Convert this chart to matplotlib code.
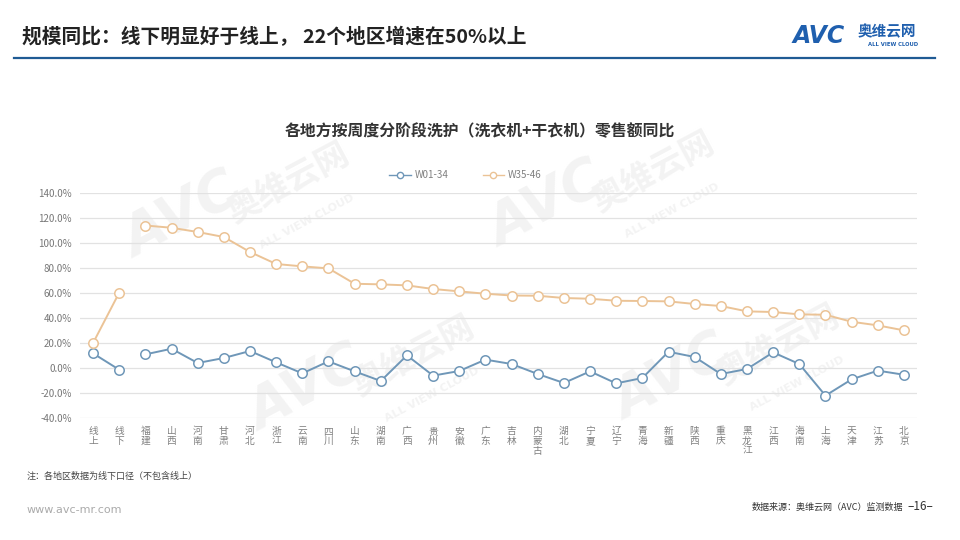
import matplotlib
matplotlib.use("Agg")
import matplotlib.pyplot as plt
import numpy as np
from matplotlib.lines import Line2D

plt.rcParams['font.family'] = ['Noto Sans CJK SC', 'DejaVu Sans']

regions = ["线上", "线下", "福建", "山西", "河南", "甘肃", "河北", "浙江", "云南", "四川",
           "山东", "湖南", "广西", "贵州", "安徽", "广东", "吉林", "内蒙古", "湖北", "宁夏",
           "辽宁", "青海", "新疆", "陕西", "重庆", "黑龙江", "江西", "海南", "上海", "天津",
           "江苏", "北京"]
w01_34 = [11.7, -1.4, 10.9, 15.4, 4.0, 8.0, 13.6, 4.5, -4.3, 5.3,
          -2.7, -10.4, 10.1, -6.1, -2.4, 6.7, 3.2, -4.8, -12.0, -2.7,
          -12.3, -8.0, 13.0, 8.8, -4.8, -0.8, 12.5, 3.2, -22.1, -9.1,
          -2.1, -5.4]
w35_46 = [20.0, 60.3, 114.0, 112.2, 108.8, 104.8, 92.8, 83.2, 81.3, 79.7,
          67.4, 66.9, 66.1, 63.2, 61.3, 59.4, 58.0, 57.8, 56.0, 55.4,
          53.8, 53.6, 53.3, 51.2, 49.6, 45.3, 44.8, 42.9, 42.6, 37.0,
          34.1, 30.1]
series_names = ["W01-34", "W35-46"]
yticks = [-40, -20, 0, 20, 40, 60, 80, 100, 120, 140]

blue = '#6f97b8'
orange = '#ebc396'

fig = plt.figure(figsize=(9.6, 5.4), dpi=100)
fig.patch.set_facecolor('white')

# faint watermarks (behind the chart)
wm_color = '#f3f3f3'
for (x, y) in [(0.19, 0.60), (0.57, 0.62), (0.32, 0.28), (0.70, 0.30)]:
    fig.text(x, y, "AVC", fontsize=40, fontweight='bold', color=wm_color, rotation=28,
             ha='center', va='center', zorder=-5, family='DejaVu Sans', style='italic')
    fig.text(x + 0.11, y + 0.06, "奥维云网", fontsize=24, fontweight='bold', color=wm_color,
             rotation=28, ha='center', va='center', zorder=-5)
    fig.text(x + 0.13, y - 0.01, "ALL VIEW CLOUD", fontsize=8, fontweight='bold', color=wm_color,
             rotation=28, ha='center', va='center', zorder=-5, family='DejaVu Sans')

ax = fig.add_axes([80/960, 1-418/540, (917-80)/960, (418-193)/540])
ax.set_zorder(5)
ax.set_facecolor('none')
x = np.arange(len(regions))
w1 = np.array(w01_34)
w2 = np.array(w35_46)

mk = dict(marker='o', markersize=6.8, markerfacecolor='white', markeredgewidth=1.1, linewidth=1.4)
# online/offline pair and regions plotted as separate segments
ax.plot(x[:2], w1[:2], color=blue, markeredgecolor=blue, zorder=3, **mk)
ax.plot(x[2:], w1[2:], color=blue, markeredgecolor=blue, zorder=3, **mk)
ax.plot(x[:2], w2[:2], color=orange, markeredgecolor=orange, zorder=3, **mk)
ax.plot(x[2:], w2[2:], color=orange, markeredgecolor=orange, zorder=3, **mk)

ax.set_xlim(-0.5, len(regions) - 0.5)
ax.set_ylim(-40, 140)
ax.set_yticks(yticks)
ax.set_yticklabels([f"{v:.1f}%" for v in yticks], fontsize=7, color='#777777')
ax.set_xticks(x)
ax.set_xticklabels(["\n".join(r) for r in regions], fontsize=7, color='#808080',
                   linespacing=0.95, va='top')
ax.tick_params(axis='both', length=0, pad=6)
ax.grid(axis='y', color='#e2e2e2', linewidth=0.9)
ax.set_axisbelow(True)
for s in ax.spines.values():
    s.set_visible(False)

# legend
handles = [Line2D([], [], color=blue, marker='o', markersize=4.5, markerfacecolor='white',
                  markeredgecolor=blue, linewidth=1.0),
           Line2D([], [], color=orange, marker='o', markersize=4.5, markerfacecolor='white',
                  markeredgecolor=orange, linewidth=1.0)]
fig.legend(handles, series_names, loc='center', bbox_to_anchor=(0.485, 1-175/540), ncol=2,
           frameon=False, fontsize=7, labelcolor='#808080', handlelength=2.2, columnspacing=3.5,
           handletextpad=0.4)

# chart title
fig.text(0.5, 1-131/540, "各地方按周度分阶段洗护（洗衣机+干衣机）零售额同比", ha='center',
         va='center', fontsize=11.4, fontweight='bold', color='#333333')

# page title
fig.text(22/960, 1-37/540, "规模同比：线下明显好于线上， 22个地区增速在50%以上", ha='left',
         va='center', fontsize=14.2, fontweight='bold', color='#222222')
fig.add_artist(Line2D([14/960, 935/960], [1-58/540, 1-58/540], color='#1f5b94', linewidth=1.6))

# logo
fig.text(793/960, 1-36/540, "AVC", ha='left', va='center', fontsize=17, fontweight='bold',
         style='italic', color='#1f5fae', family='DejaVu Sans')
fig.text(858/960, 1-31/540, "奥维云网", ha='left', va='center', fontsize=10.5, fontweight='bold',
         color='#1f5fae')
fig.text(868/960, 1-44/540, "ALL VIEW CLOUD", ha='left', va='center', fontsize=3.8,
         color='#1f5fae', family='DejaVu Sans', fontweight='bold')

# note and footer
fig.text(27/960, 1-476/540, "注：各地区数据为线下口径（不包含线上）", ha='left', va='center',
         fontsize=6.5, color='#444444')
fig.text(27/960, 1-510/540, "www.avc-mr.com", ha='left', va='center', fontsize=8,
         color='#aaaaaa', family='DejaVu Sans')
fig.text(903/960, 1-507/540, "数据来源：奥维云网（AVC）监测数据", ha='right', va='center',
         fontsize=6.5, color='#333333')
fig.text(933/960, 1-507/540, "–16–", ha='right', va='center', fontsize=8.5, color='#333333')

fig.savefig("out.png", dpi=100)
